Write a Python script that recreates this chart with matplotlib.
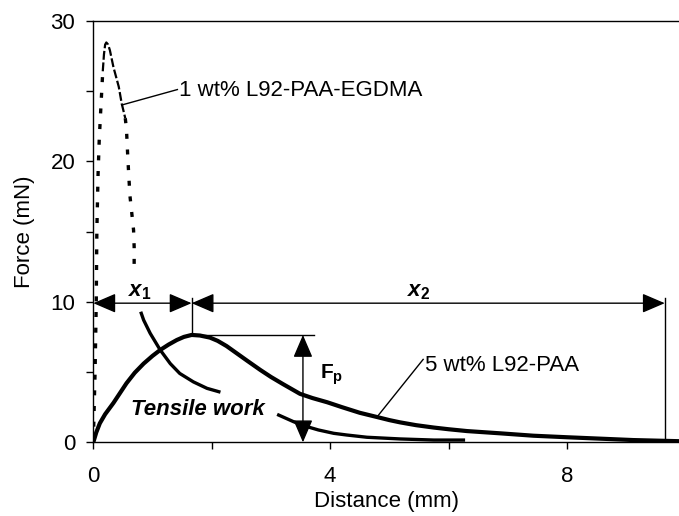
import matplotlib
matplotlib.use("Agg")
import matplotlib.pyplot as plt
from matplotlib.ticker import FixedLocator, FixedFormatter

plt.rcParams['font.family'] = ['Liberation Sans', 'DejaVu Sans']
plt.rcParams['mathtext.fontset'] = 'custom'
plt.rcParams['mathtext.rm'] = 'Liberation Sans:bold'
plt.rcParams['mathtext.it'] = 'Liberation Sans:italic:bold'
plt.rcParams['mathtext.bf'] = 'Liberation Sans:bold'

FS = 16

# 5 wt% L92-PAA force-distance trace
paa_x = [0.0, 0.05, 0.11, 0.2, 0.34, 0.45, 0.56, 0.7, 0.85, 1.0, 1.13, 1.27,
         1.41, 1.53, 1.66, 1.8, 1.97, 2.1, 2.25, 2.4, 2.6, 2.82, 3.0, 3.2,
         3.49, 3.7, 3.95, 4.2, 4.5, 4.79, 5.0, 5.18, 5.45, 5.75, 6.0, 6.31,
         6.87, 7.43, 8.0, 8.56, 9.12, 9.89]
paa_y = [0.0, 0.7, 1.35, 2.0, 2.8, 3.5, 4.2, 4.95, 5.6, 6.15, 6.57, 6.95,
         7.28, 7.5, 7.64, 7.6, 7.45, 7.22, 6.85, 6.4, 5.8, 5.15, 4.65, 4.15,
         3.45, 3.15, 2.85, 2.5, 2.1, 1.8, 1.58, 1.42, 1.22, 1.05, 0.93, 0.8,
         0.64, 0.47, 0.36, 0.26, 0.16, 0.08]

# 1 wt% L92-PAA-EGDMA trace, drawn piece by piece
egdma_rise_x = [0.0, 0.03, 0.05, 0.06, 0.08, 0.10, 0.13, 0.16]
egdma_rise_y = [0.0, 5.0, 10.0, 15.0, 19.0, 21.5, 24.0, 26.4]
egdma_peak_x = [0.16, 0.18, 0.2, 0.22, 0.25, 0.28, 0.34, 0.43, 0.48, 0.54]
egdma_peak_y = [26.4, 27.6, 28.3, 28.45, 28.3, 27.9, 26.7, 25.3, 24.1, 23.06]
egdma_drop_x = [0.54, 0.56, 0.58, 0.60, 0.62, 0.65, 0.68, 0.69, 0.69]
egdma_drop_y = [23.06, 22.3, 20.5, 18.9, 17.5, 16.3, 15.1, 13.9, 12.6]
egdma_tail1_x = [0.81, 0.85, 0.96, 1.13, 1.30, 1.46, 1.69, 1.92, 2.12]
egdma_tail1_y = [9.18, 8.7, 7.76, 6.57, 5.6, 4.9, 4.3, 3.84, 3.6]
egdma_tail2_x = [3.13, 3.38, 3.54, 3.8, 4.06, 4.28, 4.62, 5.18, 5.75, 6.25]
egdma_tail2_y = [1.94, 1.47, 1.2, 0.88, 0.64, 0.52, 0.36, 0.24, 0.16, 0.16]

# peak force and the two distances
peak_x, peak_f = 1.66, 7.64
x2_end = 9.65
dim_y = 9.9

x_ticks = [0, 2, 4, 6, 8]
x_tick_labels = ['0', '', '4', '', '8']
y_ticks = [0, 5, 10, 15, 20, 25, 30]
y_tick_labels = ['0', '', '10', '', '20', '', '30']

fig = plt.figure(figsize=(6.79, 5.16), dpi=100)
ax = fig.add_axes([0.1374, 0.1428, 0.8626, 0.8171])

ax.plot(paa_x, paa_y, color='black', lw=3.0, solid_capstyle='round',
        solid_joinstyle='round')
dot_style = dict(color='black', lw=2.4, linestyle=(0, (1.5, 3.2)))
ax.plot(egdma_rise_x, egdma_rise_y, **dot_style)
ax.plot(egdma_peak_x, egdma_peak_y, color='black', lw=1.6, linestyle=(0, (4, 1.2)))
ax.plot(egdma_drop_x, egdma_drop_y, **dot_style)
ax.plot(egdma_tail1_x, egdma_tail1_y, color='black', lw=2.4, solid_joinstyle='round')
ax.plot(egdma_tail2_x, egdma_tail2_y, color='black', lw=2.4, solid_joinstyle='round')

arrow = dict(arrowstyle='<|-|>,head_length=0.7,head_width=0.3',
             color='black', lw=1.0, mutation_scale=20,
             shrinkA=0, shrinkB=0)
ax.annotate('', xy=(peak_x, dim_y), xytext=(0, dim_y), arrowprops=arrow)
ax.annotate('', xy=(x2_end, dim_y), xytext=(peak_x, dim_y), arrowprops=arrow)
ax.annotate('', xy=(3.54, 0), xytext=(3.54, peak_f), arrowprops=arrow)

thin = dict(color='black', lw=1.0)
ax.plot([peak_x, peak_x], [10.25, peak_f], **thin)
ax.plot([x2_end, x2_end], [10.25, 0.3], **thin)
ax.plot([peak_x, 3.72], [peak_f, peak_f], **thin)

ax.text(0.78, 10.7, r'$x_{\mathrm{1}}$', fontsize=FS, ha='center', va='center')
ax.text(5.49, 10.7, r'$x_{\mathrm{2}}$', fontsize=FS, ha='center', va='center')
ax.text(4.02, 4.8, r'$\mathrm{F}_{\mathrm{p}}$', fontsize=15, ha='center', va='center')
ax.text(1.76, 2.3, 'Tensile work', fontsize=FS, fontweight='bold',
        fontstyle='italic', ha='center', va='center')

ax.plot([0.48, 1.42], [24.0, 25.1], **thin)
ax.text(1.45, 25.0, '1 wt% L92-PAA-EGDMA', fontsize=FS, ha='left', va='center')
ax.plot([4.79, 5.57], [1.8, 5.9], **thin)
ax.text(5.6, 5.5, '5 wt% L92-PAA', fontsize=FS, ha='left', va='center')

ax.set_xlim(0, 9.89)
ax.set_ylim(0, 30)
ax.xaxis.set_major_locator(FixedLocator(x_ticks))
ax.xaxis.set_major_formatter(FixedFormatter(x_tick_labels))
ax.yaxis.set_major_locator(FixedLocator(y_ticks))
ax.yaxis.set_major_formatter(FixedFormatter(y_tick_labels))
ax.tick_params(axis='both', direction='out', length=5, width=1.0,
               labelsize=FS, colors='black')
ax.tick_params(axis='x', pad=12)
ax.tick_params(axis='y', pad=8)
ax.spines['right'].set_visible(False)
for side in ('left', 'bottom', 'top'):
    ax.spines[side].set_linewidth(1.0)

ax.set_xlabel('Distance (mm)', fontsize=FS, labelpad=3)
ax.set_ylabel('Force (mN)', fontsize=FS, labelpad=11)

fig.savefig('out.png', dpi=100)
